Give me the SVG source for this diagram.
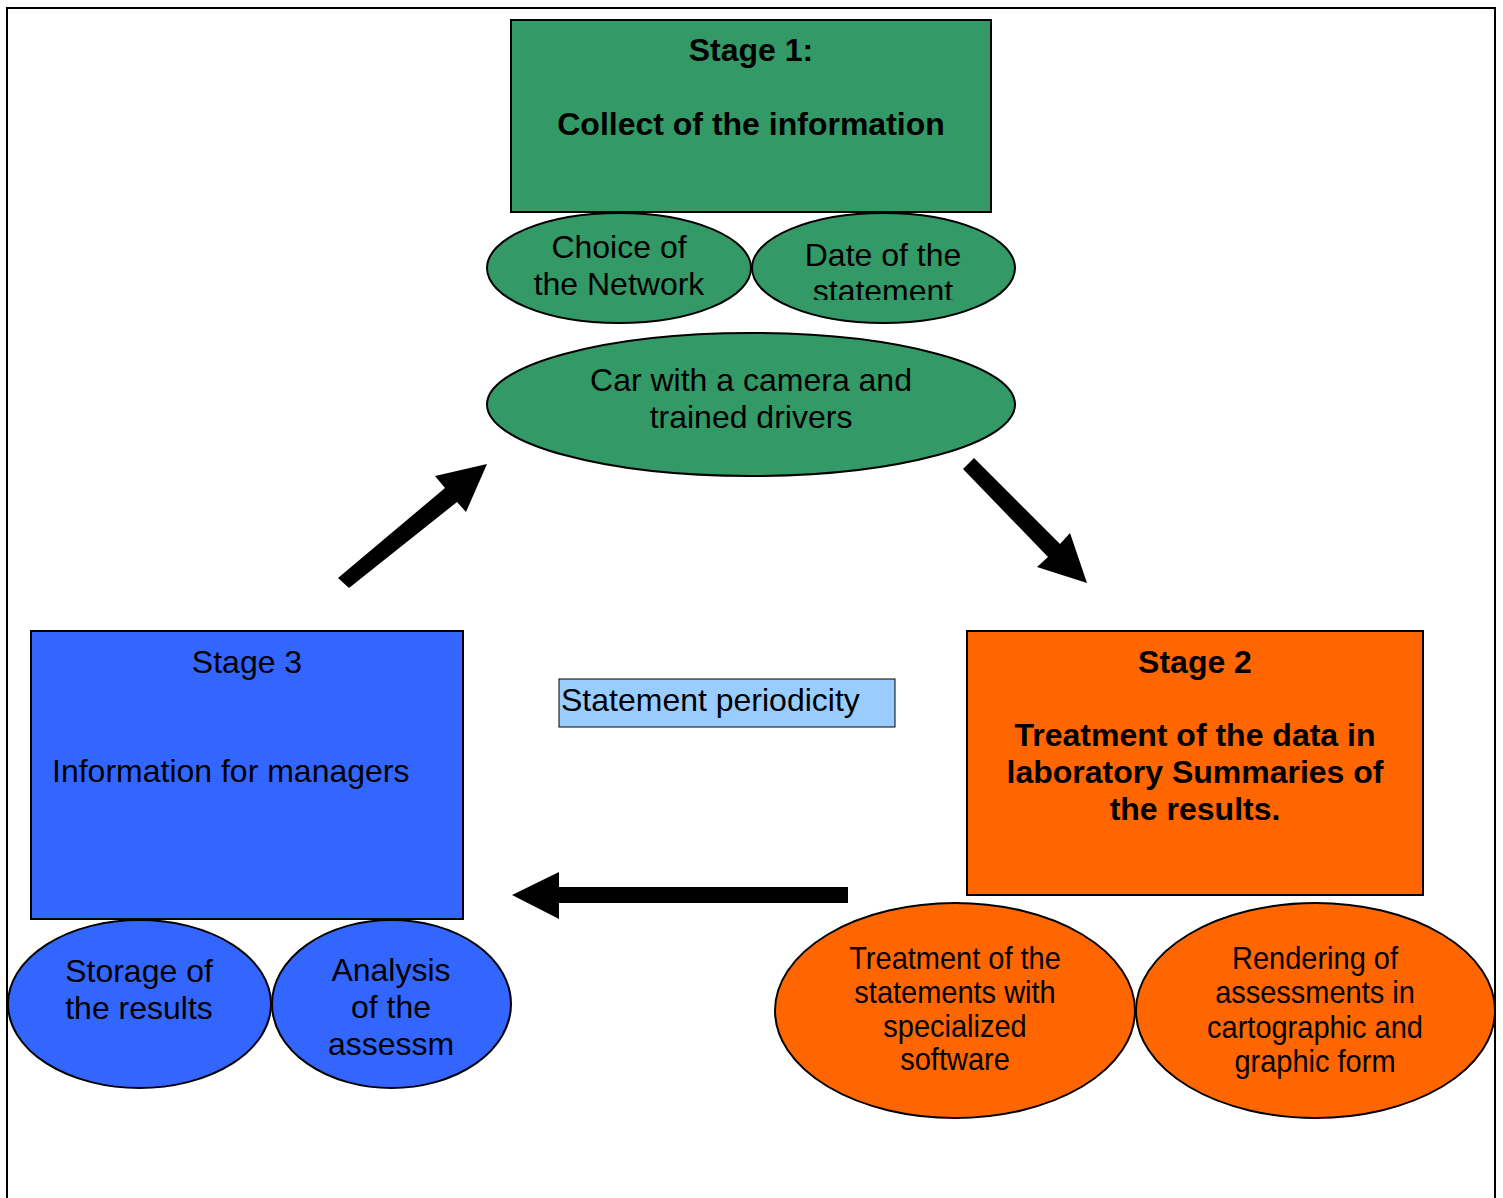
<svg xmlns="http://www.w3.org/2000/svg" width="1503" height="1198" viewBox="0 0 1503 1198">
<style>
.t{font-family:"Liberation Sans",Arial,sans-serif;font-size:32px;fill:#000}
.b{font-weight:bold}
.m{text-anchor:middle}
.n{font-family:"Liberation Sans",Arial,sans-serif;font-size:31px;fill:#000;text-anchor:middle}
.s{stroke:#000;stroke-width:2}
.g{fill:#339966}
.bl{fill:#3366FF}
.o{fill:#FF6600}
</style>
<defs>
<clipPath id="clipDate"><rect x="750" y="200" width="270" height="100"/></clipPath>
</defs>
<rect width="1503" height="1198" fill="#fff"/>
<path d="M7,1198 V8 H1495 V1198" fill="none" stroke="#000" stroke-width="2"/>

<g id="stage1">
<rect class="g s" x="511" y="20" width="480" height="192"/>
<text class="t b m" x="751" y="61">Stage 1:</text>
<text class="t b m" x="751" y="135">Collect of the information</text>
</g>
<g id="choice">
<ellipse class="g s" cx="619" cy="268" rx="132" ry="55"/>
<text class="t m" x="619" y="258">Choice of</text>
<text class="t m" x="619" y="295">the Network</text>
</g>
<g id="date">
<ellipse class="g s" cx="883.5" cy="268" rx="131.5" ry="55"/>
<g clip-path="url(#clipDate)">
<text class="t m" x="883" y="266">Date of the</text>
<text class="t m" x="883" y="302">statement</text>
</g>
</g>
<g id="car">
<ellipse class="g s" cx="751" cy="404.5" rx="264" ry="71.5"/>
<text class="t m" x="751" y="391">Car with a camera and</text>
<text class="t m" x="751" y="428">trained drivers</text>
</g>

<g id="stage2">
<rect class="o s" x="967" y="631" width="456" height="264"/>
<text class="t b m" x="1195" y="673">Stage 2</text>
<text class="t b m" x="1195" y="746">Treatment of the data in</text>
<text class="t b m" x="1195" y="783">laboratory Summaries of</text>
<text class="t b m" x="1195" y="820">the results.</text>
</g>
<g id="treatment">
<ellipse class="o s" cx="955" cy="1010.5" rx="180" ry="107.5"/>
<g transform="translate(955,0) scale(0.935,1)">
<text class="n" x="0" y="969">Treatment of the</text>
<text class="n" x="0" y="1003">statements with</text>
<text class="n" x="0" y="1037">specialized</text>
<text class="n" x="0" y="1070">software</text>
</g>
</g>
<g id="rendering">
<ellipse class="o s" cx="1315.5" cy="1010.5" rx="179.5" ry="107.5"/>
<g transform="translate(1315,0) scale(0.935,1)">
<text class="n" x="0" y="969">Rendering of</text>
<text class="n" x="0" y="1003">assessments in</text>
<text class="n" x="0" y="1038">cartographic and</text>
<text class="n" x="0" y="1072">graphic form</text>
</g>
</g>

<g id="stage3">
<rect class="bl s" x="31" y="631" width="432" height="288"/>
<text class="t m" x="247" y="673">Stage 3</text>
<text class="t" x="52" y="782">Information for managers</text>
</g>
<g id="storage">
<ellipse class="bl s" cx="139.5" cy="1004" rx="131.5" ry="84"/>
<text class="t m" x="139" y="982">Storage of</text>
<text class="t m" x="139" y="1019">the results</text>
</g>
<g id="analysis">
<ellipse class="bl s" cx="391.5" cy="1004" rx="119.5" ry="84"/>
<text class="t m" x="391" y="981">Analysis</text>
<text class="t m" x="391" y="1018">of the</text>
<text class="t m" x="391" y="1055">assessm</text>
</g>

<g id="periodicity">
<rect x="559" y="679" width="336" height="48" fill="#99CCFF" stroke="#000" stroke-width="1"/>
<text class="t" x="561" y="711">Statement periodicity</text>
</g>

<g id="connectors" fill="#000">
<polygon points="338,578 445,488 435,476 487,464 466,512 457,502 349,588"/>
<polygon points="974,458 1060,544 1070,533 1087,583 1037,567 1048,557 963,469"/>
<polygon points="512,895 559,872 559,887 848,887 848,903 559,903 559,919"/>
</g>
</svg>
